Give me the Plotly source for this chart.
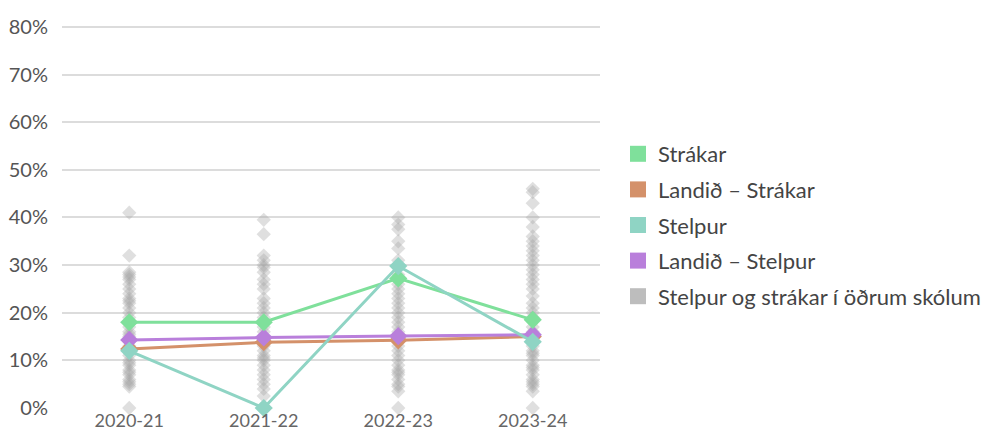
import plotly.graph_objects as go

categories = ["2020-21", "2021-22", "2022-23", "2023-24"]

strakar = [18.0, 18.0, 27.2, 18.5]
landid_strakar = [12.4, 13.8, 14.2, 15.0]
stelpur = [12.0, 0.0, 29.8, 13.9]
landid_stelpur = [14.3, 14.8, 15.1, 15.4]

other_2020 = [41, 32, 28.5, 28, 27.5, 27, 26, 25, 24, 23, 22.5, 22, 21, 20, 19, 18, 17, 16,
              15.5, 15, 14, 13, 12.5, 12, 11, 10, 9.5, 9, 8, 7.5, 7, 6, 5.5, 5, 4.5, 0]
other_2021 = [39.5, 36.5, 32, 31, 30, 29.5, 28.5, 27, 26, 25, 23, 22, 21, 20, 19, 18, 17, 16,
              15, 14, 13, 12, 11, 10.5, 10, 9, 8, 7, 6, 5, 4, 2.5]
other_2022 = [40, 38.5, 37.5, 35, 33.5, 31, 30, 28, 26, 25, 24, 23, 22, 21, 20, 19, 18, 17, 16,
              15, 14, 13, 12, 11, 10, 9, 8, 7.5, 7, 6, 5, 4.5, 3.5, 0]
other_2023 = [46, 45.3, 43, 40, 38, 36, 35, 34, 33, 32, 31, 30, 29, 28, 27, 26, 25, 23.5, 22, 21,
              20, 19, 17, 16, 13, 12, 11.5, 11, 10, 9, 8.5, 8, 7, 6, 5.5, 5, 4.5, 3.5, 0]
other_values = [other_2020, other_2021, other_2022, other_2023]

series = [
    ("Landið – Strákar", landid_strakar, "#D4916A"),
    ("Landið – Stelpur", landid_stelpur, "#B97FDB"),
    ("Strákar", strakar, "#7FE09B"),
    ("Stelpur", stelpur, "#8FD4C4"),
]
legend_order = [
    ("Strákar", "#7FE09B"),
    ("Landið – Strákar", "#D4916A"),
    ("Stelpur", "#8FD4C4"),
    ("Landið – Stelpur", "#B97FDB"),
    ("Stelpur og strákar í öðrum skólum", "#BDBDBD"),
]

FONT = "Lato"

fig = go.Figure()

for cat, vals in zip(categories, other_values):
    fig.add_trace(go.Scatter(
        x=[cat] * len(vals), y=vals, mode="markers", showlegend=False,
        marker=dict(symbol="diamond", size=11, color="rgba(160,160,160,0.34)", line=dict(width=0)),
        cliponaxis=False, hoverinfo="skip"))

for name, vals, color in series:
    fig.add_trace(go.Scatter(
        x=categories, y=vals, mode="lines+markers", showlegend=False, name=name,
        line=dict(color=color, width=3),
        marker=dict(symbol="diamond", size=14, color=color),
        cliponaxis=False))

for i, (name, color) in enumerate(legend_order):
    fig.add_trace(go.Scatter(
        x=[None], y=[None], mode="markers", name=name, legendgroup=f"g{i}",
        marker=dict(symbol="square", size=16, color=color)))

fig.update_layout(
    width=989, height=435,
    margin=dict(l=54, r=397, t=17, b=35),
    paper_bgcolor="white", plot_bgcolor="white",
    font=dict(family=FONT, size=18, color="#555555"),
    showlegend=True,
    legend=dict(xref="container", yref="container", x=610/989, y=1-217/435,
                xanchor="left", yanchor="middle", tracegroupgap=4,
                font=dict(family=FONT, size=22, color="#444444")),
    xaxis=dict(type="category", range=[-0.5, 3.5], showgrid=False, zeroline=False,
               showline=False, ticks="", ticklen=0,
               automargin=False,
               tickfont=dict(family=FONT, size=18, color="#666666")),
    yaxis=dict(range=[0, 80.4], dtick=10, ticksuffix="%", showgrid=True,
               gridcolor="#dcdcdc", gridwidth=1.5, zeroline=False, showline=False,
               ticks="outside", ticklen=9, tickcolor="rgba(0,0,0,0)",
               automargin=False,
               tickfont=dict(family=FONT, size=20, color="#555555")),
)

fig.write_html("out.html")
